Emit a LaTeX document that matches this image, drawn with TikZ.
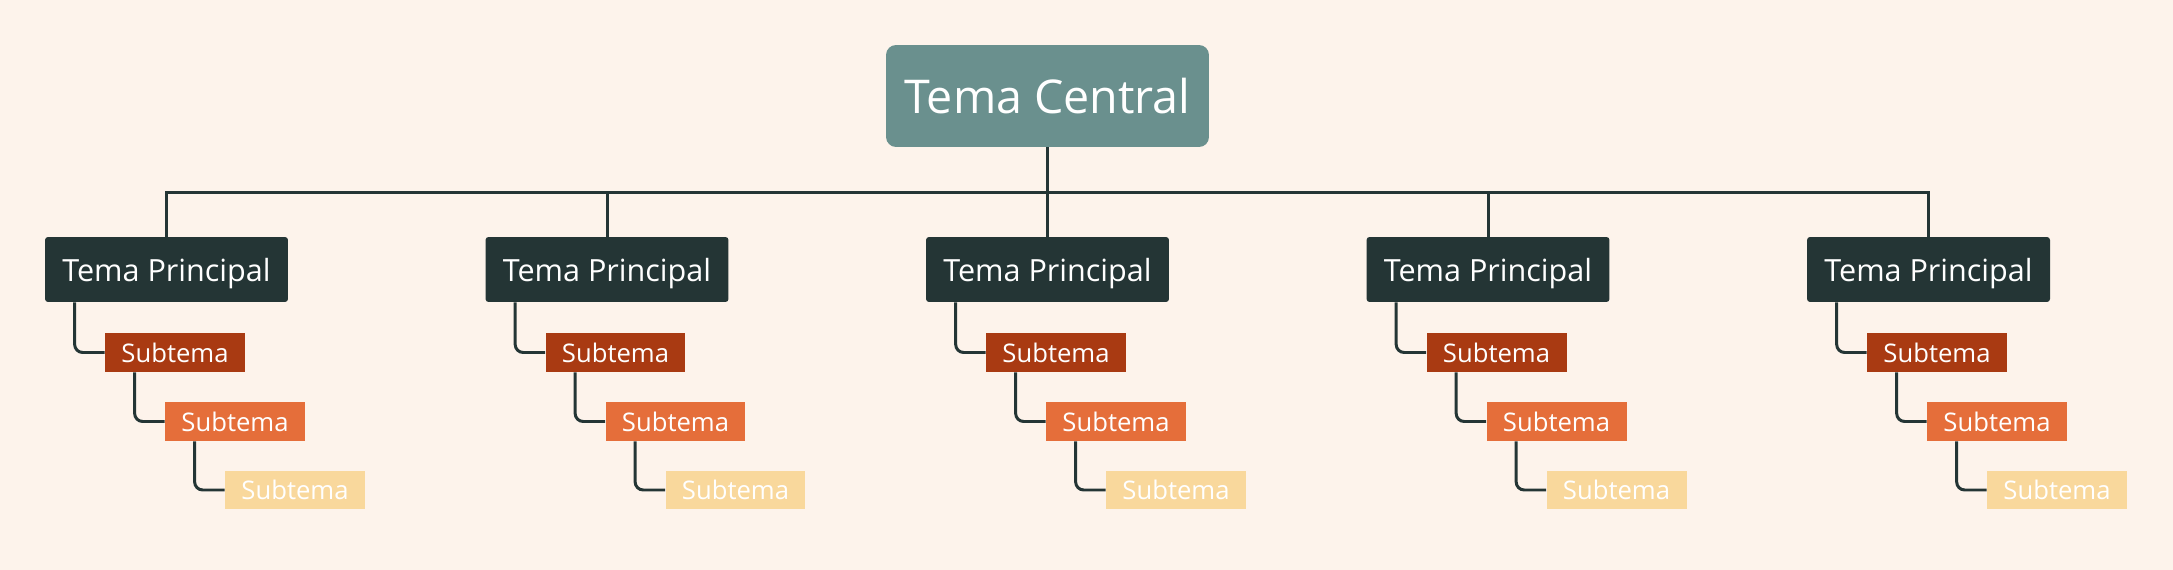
\documentclass[tikz,border=0pt]{standalone}
\usepackage{fontspec}
\setmainfont{Open Sans}
\usepackage{xcolor}
\usepackage{tikz}

\definecolor{bgpaper}{HTML}{FDF3EB}
\definecolor{centralgreen}{HTML}{6A908E}
\definecolor{darkslate}{HTML}{243535}
\definecolor{rust}{HTML}{A93A12}
\definecolor{tangerine}{HTML}{E56E3A}
\definecolor{wheat}{HTML}{F9D89C}

\begin{document}
\begin{tikzpicture}[x=0.02cm, y=-0.02cm,
    centralbox/.style={fill=centralgreen, text=white, rounded corners=0.2cm,
        minimum width=6.46cm, minimum height=2.04cm, inner sep=0pt,
        font=\fontsize{26.5}{32}\selectfont},
    mainbox/.style={fill=darkslate, text=white, rounded corners=0.06cm,
        minimum width=4.86cm, minimum height=1.3cm, inner sep=0pt,
        text depth=0pt, font=\fontsize{17.4}{22}\selectfont},
    subbox/.style={text=white, minimum width=2.8cm, minimum height=0.78cm,
        inner sep=0pt, font=\fontsize{14.6}{18}\selectfont},
    link/.style={draw=darkslate, line width=1.7pt},
    elbow/.style={link, rounded corners=0.16cm}]
    % Background
    \fill[bgpaper] (0,0) rectangle (2173,570);
    \useasboundingbox (0,0) rectangle (2173,570);

    % Central topic
    \node[centralbox] (central) at (1047.5,96) {Tema Central};

    % Main topics and their subtopics
    \foreach \i in {0,...,4} {
        \pgfmathsetmacro\cx{166.5+440.5*\i}
        \node[mainbox] (main\i) at (\cx,269.5) {Tema Principal};
        \node[subbox, fill=rust] (subA\i) at (\cx+8.5,352.5) {Subtema};
        \node[subbox, fill=tangerine] (subB\i) at (\cx+68.5,421.5) {Subtema};
        \node[subbox, fill=wheat] (subC\i) at (\cx+128.5,490) {Subtema};

        \draw[link] (central.south) -- ++(0,45) -| (main\i.north);
        \draw[elbow] ([xshift=0.6cm]main\i.south west) |- (subA\i.west);
        \draw[elbow] ([xshift=0.6cm]subA\i.south west) |- (subB\i.west);
        \draw[elbow] ([xshift=0.6cm]subB\i.south west) |- (subC\i.west);
    }
\end{tikzpicture}
\end{document}
